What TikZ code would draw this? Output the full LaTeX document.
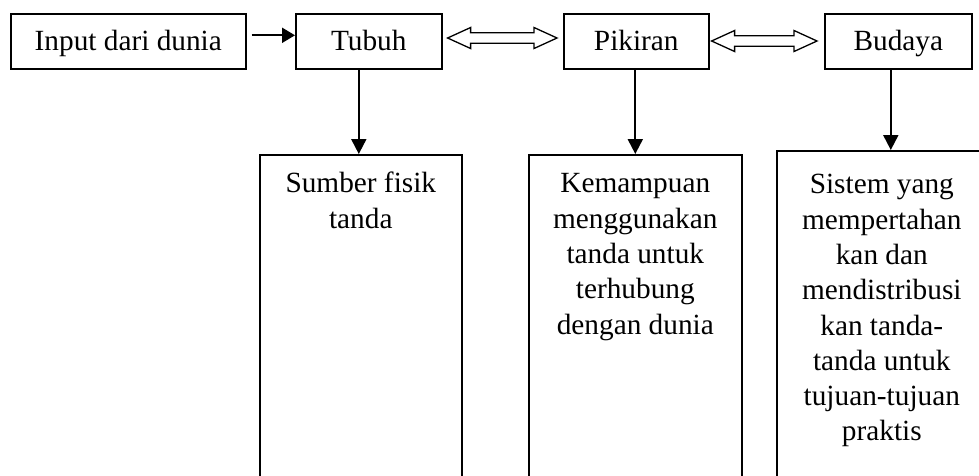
\documentclass[tikz,border=0pt]{standalone}
\usepackage{fontspec}
\setmainfont{Liberation Serif}
\usetikzlibrary{calc,arrows.meta}
\tikzset{
  topbox/.style={draw, line width=1.6pt, inner sep=0pt, minimum height=55pt, anchor=north west,
    font=\fontsize{29.3}{35.3}\selectfont, text height=22pt, text depth=3pt},
  tallbox/.style={draw, line width=1.6pt, inner sep=0pt, anchor=north west,
    font=\fontsize{29.3}{35.3}\selectfont},
  arr/.style={line width=2pt, -{Triangle[width=15pt,length=15pt]}},
  hollow/.style={draw, line width=1.3pt, line join=miter, fill=white},
}
\newcommand{\hollowarrow}[2]{%
  \draw[hollow] let \p1=(#1), \p2=(#2) in
    (\x1,\y1) -- (\x1+23pt,\y1+10.5pt) -- (\x1+23pt,\y1+5.3pt) -- (\x2-23pt,\y1+5.3pt)
    -- (\x2-23pt,\y1+10.5pt) -- (\x2,\y1) -- (\x2-23pt,\y1-10.5pt) -- (\x2-23pt,\y1-5.3pt)
    -- (\x1+23pt,\y1-5.3pt) -- (\x1+23pt,\y1-10.5pt) -- cycle;}
\begin{document}
\begin{tikzpicture}[x=1pt,y=-1pt]
\useasboundingbox (0,0) rectangle (979,475);
% top row
\node[topbox, minimum width=235pt] (input) at (10,13) {Input dari dunia};
\node[topbox, minimum width=146pt] (tubuh) at (295,13) {Tubuh};
\node[topbox, minimum width=145pt] (pikiran) at (563,13) {Pikiran};
\node[topbox, minimum width=147pt] (budaya) at (824,13) {Budaya};
% lower boxes
\node[tallbox] (sumber) at (259,154)
  {\parbox[t][336pt][t]{202pt}{\centering\rule{0pt}{38pt}Sumber fisik\\tanda}};
\node[tallbox] (kemampuan) at (528,154)
  {\parbox[t][336pt][t]{213pt}{\centering\rule{0pt}{38pt}Kemampuan\\menggunakan\\tanda untuk\\terhubung\\dengan dunia}};
\node[tallbox] (sistem) at (776,150)
  {\parbox[t][340pt][t]{210pt}{\centering\rule{0pt}{43pt}Sistem yang\\mempertahan\\kan dan\\mendistribusi\\kan tanda-\\tanda untuk\\tujuan-tujuan\\praktis}};
% connectors
\draw[line width=2pt, -{Triangle[width=15pt,length=13pt]}]
  ([xshift=5pt,yshift=6pt]input.east) -- ([yshift=6pt]tubuh.west);
\coordinate (h1a) at ([xshift=5pt,yshift=3.3pt]tubuh.east);
\coordinate (h1b) at ([xshift=-6pt,yshift=3.3pt]pikiran.west);
\coordinate (h2a) at ([xshift=2pt,yshift=0.3pt]pikiran.east);
\coordinate (h2b) at ([xshift=-7pt,yshift=0.3pt]budaya.west);
\hollowarrow{h1a}{h1b}
\hollowarrow{h2a}{h2b}
\draw[arr] ([xshift=-10pt]tubuh.south) -- ([xshift=-10pt]tubuh.south |- sumber.north);
\draw[arr] (kemampuan.north |- pikiran.south) -- (kemampuan.north);
\draw[arr] ([xshift=-7.5pt]budaya.south) -- ([xshift=-7.5pt]budaya.south |- sistem.north);
\end{tikzpicture}
\end{document}
